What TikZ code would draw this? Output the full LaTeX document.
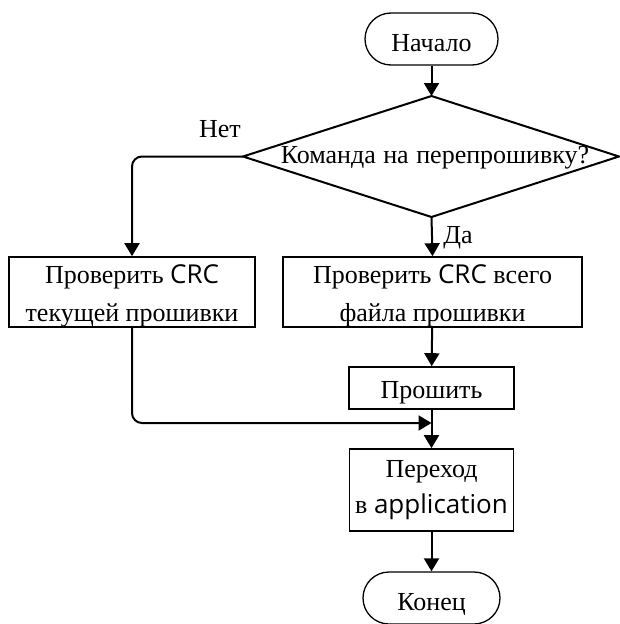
\documentclass[tikz,border=0pt]{standalone}
\usepackage{fontspec}
\setmainfont{Liberation Serif}
\newfontfamily\appsans{Open Sans}
\usetikzlibrary{arrows.meta}
\newcommand\mystrut[2]{\rule[-#2pt]{0pt}{\dimexpr#1pt+#2pt\relax}}
\begin{document}
\begin{tikzpicture}[x=1pt,y=-1pt,
  txt/.style={font=\fontsize{26}{38}\selectfont, align=center, inner sep=0pt},
  termbox/.style={txt, draw, line width=1.3pt, rounded corners=26pt, minimum height=52pt},
  procbox/.style={txt, draw, line width=1.6pt},
  conn/.style={line width=2pt, -{Triangle[length=13pt,width=15pt]}},
  lbl/.style={font=\fontsize{26}{30}\selectfont, inner sep=0pt}]
\useasboundingbox (0,0) rectangle (620,624);
\node[termbox, minimum width=133pt] (start) at (431.5,39) {\mystrut{30}{5}Начало};
\coordinate (dT) at (431.5,96);
\coordinate (dB) at (431.5,217);
\coordinate (dL) at (243,156.5);
\coordinate (dR) at (619,156.5);
\draw[line width=2pt, line join=miter] (dT) -- (dR) -- (dB) -- (dL) -- cycle;
\node[txt] (dq) at (435,158) {Команда\hspace{1pt} на\hspace{1pt} перепрошивку?};
\node[procbox, minimum width=246pt, minimum height=68pt] (lb) at (132,292) {\mystrut{26}{0}Проверить {\appsans CRC}\\текущей прошивки\mystrut{0}{6}};
\node[procbox, minimum width=299pt, minimum height=68pt] (rb) at (432.5,292) {\mystrut{26}{0}Проверить {\appsans CRC} всего\\файла прошивки\mystrut{0}{6}};
\node[procbox, minimum width=165pt, minimum height=42pt] (fl) at (431.5,388) {\mystrut{27}{6}Прошить};
\node[procbox, minimum width=164pt, minimum height=82pt, font=\fontsize{26}{36}\selectfont] (go) at (431.5,490) {\mystrut{17}{0}Переход\\в {\appsans application}\mystrut{0}{7}};
\node[termbox, minimum width=137pt] (end) at (431.5,598) {\mystrut{31}{6}Конец};
\coordinate (j) at (431.5,423);
\node[lbl] (no) at (220,129) {Нет};
\node[lbl] (yes) at (458,238) {Да};
\draw[conn] (start) -- (dT);
\draw[conn, rounded corners=10pt] (dL) -| (lb.north);
\draw[conn] (dB) -- (rb.north);
\draw[conn] (rb) -- (fl);
\draw[conn, rounded corners=10pt] (lb.south) |- (j);
\draw[conn] (fl) -- (go);
\draw[conn] (go) -- (end);
\end{tikzpicture}
\end{document}
